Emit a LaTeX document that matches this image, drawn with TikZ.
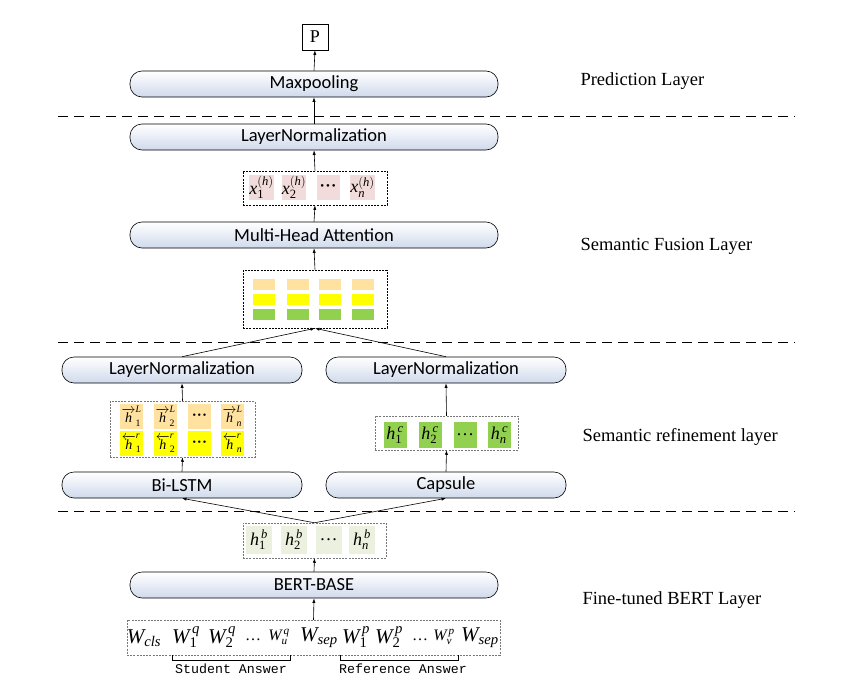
\RequirePackage{fix-cm}
\documentclass[tikz,border=0pt]{standalone}
\usepackage{fontspec}
\setmainfont{Liberation Serif}
\newfontfamily\boxfont{Carlito}
\newfontfamily\monofont{Liberation Mono}
\usetikzlibrary{arrows.meta}
\newcommand\tvar[1]{\mathit{#1}}
\newcommand\trm[1]{\mathrm{#1}}
\definecolor{boxblue}{RGB}{208,218,236}
\definecolor{pinkcell}{RGB}{242,220,219}
\definecolor{orangecell}{RGB}{255,226,160}
\definecolor{yellowcell}{RGB}{255,255,0}
\definecolor{greencell}{RGB}{146,208,80}
\definecolor{lgreencell}{RGB}{235,241,222}
\definecolor{dgrey}{RGB}{120,120,120}
\tikzset{
  layerbox/.style={draw=black, line width=0.6pt, rounded corners=12pt, top color=white, bottom color=boxblue,
    minimum height=26pt, inner sep=0pt, font=\boxfont\fontsize{18.5}{20}\selectfont},
  widebox/.style={layerbox, minimum width=368pt},
  halfbox/.style={layerbox, minimum width=240pt},
  blackgroup/.style={draw=black, dash pattern=on 2pt off 1.2pt, line width=0.6pt, inner sep=0pt},
  greygroup/.style={draw=dgrey, dash pattern=on 2pt off 1.2pt, line width=0.5pt, inner sep=0pt},
  cell/.style={inner sep=0pt, minimum width=23pt, minimum height=25pt, font=\fontsize{18}{18}\selectfont},
  arrowcell/.style={cell, font=\fontsize{14}{14}\selectfont},
  flat/.style={inner sep=0pt, minimum width=22pt, minimum height=11pt},
  conn/.style={line width=0.6pt, -{Latex[length=4.5pt,width=3.2pt]}},
  sep/.style={line width=1pt, dash pattern=on 10pt off 6pt},
  layerlabel/.style={anchor=west, font=\fontsize{18.5}{20}\selectfont},
  word/.style={inner sep=0pt, font=\fontsize{21}{22}\selectfont},
  smallword/.style={inner sep=0pt, font=\fontsize{16}{17}\selectfont},
  monolabel/.style={font=\monofont\fontsize{13.3}{15}\selectfont},
}
\begin{document}
\begin{tikzpicture}[x=1pt,y=-1pt]
\useasboundingbox (0,0) rectangle (843,688);
\fill[white] (0,0) rectangle (843,688);

% separators
\draw[sep] (58,116) -- (795,116);
\draw[sep] (58,342) -- (795,342);
\draw[sep] (58,511) -- (795,511);

% prediction layer
\node[draw, line width=0.6pt, minimum size=26pt, inner sep=0pt, font=\fontsize{18}{18}\selectfont] (P) at (315,37) {P};
\node[widebox] (maxp) at (314,84) {Maxpooling};

% fusion layer
\node[widebox] (lnt) at (314,137) {LayerNormalization};
\node[blackgroup, minimum width=144pt, minimum height=34pt] (xh) at (315,188) {};
\node[cell, fill=pinkcell] (xh1) at (261.5,187) {$\tvar{x}_{\trm{1}}^{(\tvar{h})}$};
\node[cell, fill=pinkcell] (xh2) at (294,187) {$\tvar{x}_{\trm{2}}^{(\tvar{h})}$};
\node[cell, fill=pinkcell, font=\fontsize{11}{11}\selectfont] (xh3) at (328,187) {\textbullet\,\textbullet\,\textbullet};
\node[cell, fill=pinkcell] (xh4) at (362.5,187) {$\tvar{x}_{\tvar{n}}^{(\tvar{h})}$};
\node[widebox] (mha) at (314,235) {Multi-Head Attention};
\node[blackgroup, minimum width=144pt, minimum height=58pt] (fus) at (315,299) {};
\foreach \i/\x in {1/264,2/297.5,3/330,4/363}{
  \node[flat, fill=orangecell] (fa\i) at (\x,284.5) {};
  \node[flat, fill=yellowcell] (fb\i) at (\x,299.5) {};
  \node[flat, fill=greencell] (fc\i) at (\x,314.5) {};
}

% refinement layer
\node[halfbox] (lnl) at (182,370) {LayerNormalization};
\node[halfbox] (lnr) at (446,370) {LayerNormalization};
\node[greygroup, minimum width=145pt, minimum height=56pt] (lcells) at (182.5,429) {};
\node[arrowcell, fill=orangecell] (lf1) at (131.5,416) {$\overrightarrow{\tvar{h}}_{\trm{1}}^{\tvar{L}}$};
\node[arrowcell, fill=orangecell] (lf2) at (165.5,416) {$\overrightarrow{\tvar{h}}_{\trm{2}}^{\tvar{L}}$};
\node[arrowcell, fill=orangecell, font=\fontsize{10}{10}\selectfont] (lf3) at (199.5,416) {\textbullet\,\textbullet\,\textbullet};
\node[arrowcell, fill=orangecell] (lf4) at (232.5,416) {$\overrightarrow{\tvar{h}}_{\tvar{n}}^{\tvar{L}}$};
\node[arrowcell, fill=yellowcell] (lb1) at (131.5,443.5) {$\overleftarrow{\tvar{h}}_{\trm{1}}^{\tvar{r}}$};
\node[arrowcell, fill=yellowcell] (lb2) at (165.5,443.5) {$\overleftarrow{\tvar{h}}_{\trm{2}}^{\tvar{r}}$};
\node[arrowcell, fill=yellowcell, font=\fontsize{10}{10}\selectfont] (lb3) at (199.5,443.5) {\textbullet\,\textbullet\,\textbullet};
\node[arrowcell, fill=yellowcell] (lb4) at (232.5,443.5) {$\overleftarrow{\tvar{h}}_{\tvar{n}}^{\tvar{r}}$};
\node[greygroup, minimum width=143pt, minimum height=34pt] (ccells) at (446.5,433) {};
\node[cell, fill=greencell, minimum height=26pt] (c1) at (395,435) {$\tvar{h}_{\trm{1}}^{\,\tvar{c}}$};
\node[cell, fill=greencell, minimum height=26pt] (c2) at (430,435) {$\tvar{h}_{\trm{2}}^{\,\tvar{c}}$};
\node[cell, fill=greencell, minimum height=26pt] (c3) at (465,435) {\dots};
\node[cell, fill=greencell, minimum height=26pt] (c4) at (499.5,435) {$\tvar{h}_{\tvar{n}}^{\,\tvar{c}}$};
\node[halfbox] (bilstm) at (182,485) {Bi-LSTM};
\node[halfbox] (capsule) at (446,485) {Capsule};

% BERT layer
\node[greygroup, minimum width=143pt, minimum height=35pt] (hb) at (314.5,540.5) {};
\node[cell, fill=lgreencell, minimum width=26pt, minimum height=28pt] (hb1) at (259,540) {$\tvar{h}_{\trm{1}}^{\,\tvar{b}}$};
\node[cell, fill=lgreencell, minimum width=26pt, minimum height=28pt] (hb2) at (294,540) {$\tvar{h}_{\trm{2}}^{\,\tvar{b}}$};
\node[cell, fill=lgreencell, minimum width=26pt, minimum height=28pt] (hb3) at (328.5,540) {\dots};
\node[cell, fill=lgreencell, minimum width=26pt, minimum height=28pt] (hb4) at (362,540) {$\tvar{h}_{\tvar{n}}^{\,\tvar{b}}$};
\node[widebox] (bert) at (314,585) {BERT-BASE};
\node[greygroup, minimum width=373pt, minimum height=35pt] (inp) at (313.5,637.5) {};
\node[word] (w1) at (144,638) {$\tvar{W}_{\tvar{cls}}$};
\node[word] (w2) at (186,637) {$\tvar{W}_{\trm{1}}^{\,\tvar{q}}$};
\node[word] (w3) at (222,637) {$\tvar{W}_{\trm{2}}^{\,\tvar{q}}$};
\node[smallword] (w4) at (253,640) {\dots};
\node[smallword] (w5) at (279,637) {$\tvar{W}_{\tvar{u}}^{\,\tvar{q}}$};
\node[word] (w6) at (319,638) {$\tvar{W}_{\tvar{sep}}$};
\node[word] (w7) at (356,637) {$\tvar{W}_{\trm{1}}^{\,\tvar{p}}$};
\node[word] (w8) at (389,637) {$\tvar{W}_{\trm{2}}^{\,\tvar{p}}$};
\node[smallword] (w9) at (420,640) {\dots};
\node[smallword] (w10) at (444,637) {$\tvar{W}_{\tvar{v}}^{\,\tvar{p}}$};
\node[word] (w11) at (480,638) {$\tvar{W}_{\tvar{sep}}$};

% brackets
\draw[line width=0.7pt] (172,655) -- (172,660) -- (290,660) -- (290,655);
\draw[line width=0.7pt] (340,655) -- (340,660) -- (458,660) -- (458,655);
\node[monolabel] (stud) at (231,669) {Student Answer};
\node[monolabel] (ref) at (403,669) {Reference Answer};

% connectors
\draw[conn] (inp.north) -- (bert.south);
\draw[conn] (bert.north) -- (hb.south);
\draw[conn] (hb.north) -- (bilstm.south);
\draw[conn] (hb.north) -- (capsule.south);
\draw[conn] (bilstm.north) -- (lcells.south);
\draw[conn] (lcells.north) -- (lnl.south);
\draw[conn] (capsule.north) -- (ccells.south);
\draw[conn] (ccells.north) -- (lnr.south);
\draw[conn] (lnl.north) -- (fus.south);
\draw[conn] (lnr.north) -- (fus.south);
\draw[conn] (fus.north) -- (mha.south);
\draw[conn] (mha.north) -- (xh.south);
\draw[conn] (xh.north) -- (lnt.south);
\draw[conn] (lnt.north) -- (maxp.south);
\draw[conn] (maxp.north) -- (P.south);

% layer labels
\node[layerlabel] (l1) at (577,81) {Prediction Layer};
\node[layerlabel] (l2) at (577,246) {Semantic Fusion Layer};
\node[layerlabel] (l3) at (579,437) {Semantic refinement layer};
\node[layerlabel] (l4) at (579,600) {Fine-tuned BERT Layer};
\end{tikzpicture}
\end{document}
